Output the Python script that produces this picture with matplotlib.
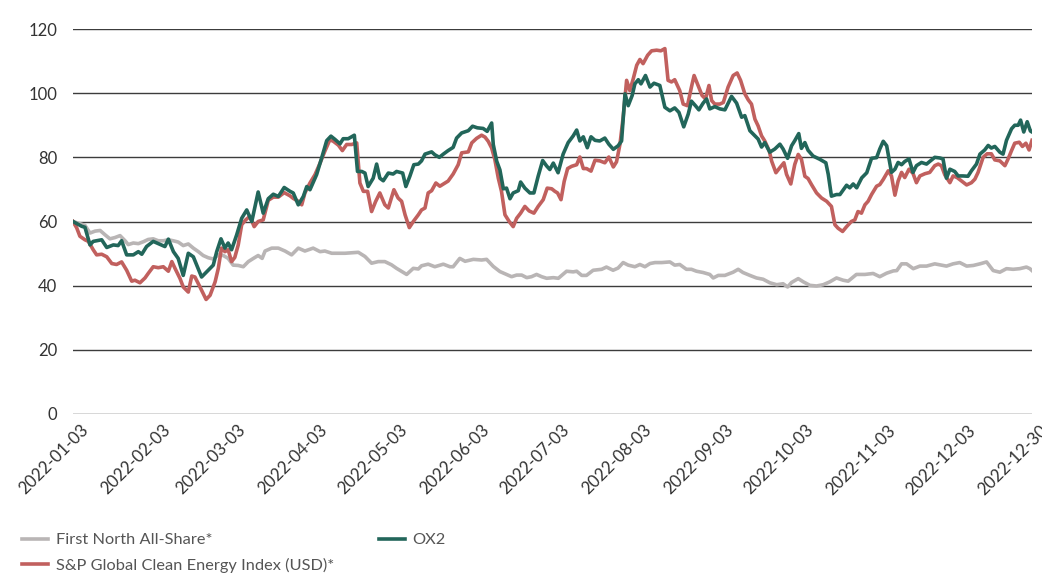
import numpy as np
import matplotlib
matplotlib.use("Agg")
import matplotlib.pyplot as plt
import matplotlib.dates as mdates
import matplotlib.transforms as mtransforms
import datetime as dt

plt.rcParams['font.family'] = ['Lato', 'DejaVu Sans']

START = dt.date(2022, 1, 3)

# ---- data (day offsets from 2022-01-03, indexed values) ----
ox2_days = [0, 3.3, 4.5, 6.4, 7.6, 10.8, 12.7, 15.2, 17, 18.3, 20.2, 22.7, 24.6, 25.9, 27.7, 30.2, 32.7, 34.6, 35.9, 37.8,
            39.6, 41.5, 43.4, 45.3, 48.4, 50.9, 52.8, 54.1, 55.7, 57.2, 58.4, 59.7, 61.6, 63.5, 65.4, 67.3, 69.7, 71.6, 73.5, 75.4,
            77.3, 79.5, 81.7, 82.9, 84.8, 86.7, 88, 89.2, 91.7, 93.6, 95.5, 97.1, 98.6, 100.5, 101.7, 103.6, 105.9, 107.1, 108.7, 109.9,
            111.1, 113, 114.3, 115.5, 116.8, 118.7, 120.5, 121.8, 124.1, 125.3, 126.8, 128.3, 130, 131.2, 132.5, 135, 136.2, 137.9, 139.4, 141.2,
            143.1, 144.4, 146.3, 148.8, 150.4, 152.2, 154.4, 155.9, 157.6, 158.2, 159.5, 160.7, 162, 163.2, 164.5, 165.7, 167.6, 168.5, 170.1, 172,
            173.5, 175.1, 176.8, 178.3, 179.5, 180.8, 182.6, 184.5, 186.4, 188.3, 189.6, 190.8, 192.1, 193.6, 195, 196.5, 198.3, 200.2, 201.7, 203.4,
            205.2, 206.5, 207.8, 209, 210.5, 211.5, 212.8, 213.8, 215.5, 217.2, 218.7, 220.9, 222.8, 224.7, 226.5, 228.1, 229.9, 231.6, 232.8, 234.3,
            235.6, 237.2, 238.5, 239.7, 241.6, 243.5, 245.4, 247.9, 249.8, 251.7, 252.9, 254.8, 256.7, 257.9, 259.2, 260.4, 262.3, 264.2, 266.1, 267.3,
            269, 270.5, 271.7, 273.2, 274.2, 275.5, 276.7, 278.6, 281.1, 283.4, 284.3, 285.5, 287.4, 288.7, 291.2, 292.4, 293.7, 295, 296.9, 298.8,
            300.6, 302.5, 303.7, 305, 306.3, 308.1, 309.4, 310.6, 311.9, 313.1, 314.7, 316.2, 317.5, 319.4, 321.3, 323.2, 324.4, 326.3, 327.5, 328.8,
            330.1, 331.9, 333.2, 335, 336.9, 338.2, 340.1, 341.4, 343.2, 344.5, 345.7, 347, 348.9, 350.1, 351.4, 353.3, 354.5, 355.8, 356.7, 357.9,
            359.2, 360.4, 361]
ox2_vals = [60, 58.5, 58.2, 52.7, 53.8, 54.3, 51.9, 52.7, 52.5, 54, 49.6, 49.6, 50.6, 49.8, 52.2, 53.8, 52.9, 52.2, 54.5, 50.6,
            48.5, 43.2, 50.1, 49, 42.7, 44.8, 46.4, 50.6, 54.6, 51.7, 53.3, 51.2, 55.8, 61, 63.6, 60, 69.2, 62.6, 67.1, 68.5,
            67.8, 70.6, 69.4, 68.9, 65.2, 67.8, 70.9, 69.9, 74.6, 79.8, 85.2, 86.6, 85.6, 84.2, 85.8, 85.8, 86.9, 75.6, 75.6, 75.1,
            70.9, 73.5, 77.9, 73.5, 72.7, 75.1, 74.8, 75.6, 75.1, 70.9, 74.1, 77.7, 77.9, 78.9, 81, 81.7, 80.8, 80, 81, 82.1,
            83.1, 86, 87.6, 88.3, 89.7, 89.2, 89, 88.1, 90.7, 84, 78.8, 76.1, 70.2, 70.4, 67.1, 68.9, 69.6, 72.3, 70.4, 68.9,
            68.9, 74.1, 79, 77.3, 76.2, 78.2, 75.2, 81, 84.6, 86.7, 88.5, 85.1, 86.4, 83, 86.4, 85.3, 85.1, 86, 84.1, 82.5,
            83.6, 85.1, 99.8, 96.1, 99.3, 102.9, 104.2, 102.9, 105.5, 101.9, 103.1, 102.4, 95.6, 94.5, 95.4, 94, 89.5, 93.5, 97.5, 96.1,
            94.8, 96.9, 98.2, 95.1, 95.8, 95.1, 94.8, 99, 96.9, 92.5, 93, 88.3, 86.7, 85.7, 83.2, 84.6, 81.6, 82.6, 84.1, 82.6,
            79.7, 83.6, 85.2, 87.4, 82.8, 84.6, 82.2, 80.4, 79.4, 78.3, 74.7, 67.9, 68.4, 68.4, 71.3, 70.5, 71.7, 70.5, 73.6, 75.2,
            79.7, 79.9, 82.6, 85, 83.6, 75.3, 76.3, 78.4, 77.7, 78.7, 79.5, 75.3, 77.4, 78.4, 77.9, 79.2, 80, 79.8, 79.5, 73.5,
            76.3, 75.6, 74.2, 74.2, 74.1, 75.8, 77.9, 81, 82.3, 83.7, 82.9, 83.4, 81.6, 81, 85.3, 88.9, 90, 90, 91.6, 87.9,
            91.1, 88.2, 87.9]

sp_days = [0, 1.4, 2.6, 4.5, 5.8, 7.6, 8.9, 10.8, 12.7, 14.6, 16.4, 18.3, 20.2, 22.1, 23.3, 25.2, 27.1, 28.3, 30.2, 32.1,
           34, 35.9, 37.2, 38.4, 40.3, 41.5, 43.4, 44.7, 45.9, 47.8, 50.1, 51.6, 53.5, 54.7, 55.9, 57.2, 58.4, 59.7, 60.9, 62.2,
           63.5, 65, 66.6, 68.2, 69.7, 71.6, 73.5, 75.4, 77.3, 79.5, 81.7, 82.9, 84.8, 86.1, 87.3, 89.2, 91.1, 93, 94.8, 96.7,
           98, 99.9, 101.4, 103, 104.9, 106.8, 108, 109.3, 110.9, 112.4, 113.9, 115.5, 117.4, 118.7, 120.8, 122.4, 123.7, 125, 126.6, 128.1,
           130, 131.2, 132.5, 133.7, 135, 136.6, 138.1, 140, 141.2, 143.1, 145, 146.3, 148.8, 150.1, 151.9, 153.8, 155.1, 156.3, 157.6, 158.8,
           160.1, 161.3, 162.6, 164.2, 165.7, 167, 168.5, 170.1, 171.7, 173.5, 175.1, 177, 178.5, 180.2, 181.4, 182.4, 183.7, 184.9, 186.2, 187.7,
           189.6, 190.8, 192.1, 193.3, 195, 196.5, 198.3, 200.2, 201.7, 203.4, 204.6, 205.9, 207.1, 208.4, 209.6, 210.9, 212.2, 213.4, 214.6, 216.3,
           217.8, 219.7, 221.3, 222.8, 224, 225.3, 226.5, 228.4, 229.7, 231.3, 232.8, 233.8, 235.3, 236.8, 238.1, 239.4, 240.4, 241.6, 243.5, 244.8,
           246.6, 248.5, 250, 251.3, 252.9, 254.2, 255.4, 256.7, 257.9, 259.2, 260.4, 262.1, 263, 264.6, 266.1, 267.6, 268.6, 270.2, 271.7, 273,
           274.2, 275.5, 276.7, 278, 279.9, 281.8, 283.7, 285.5, 286.8, 288, 289.7, 291.2, 293, 294.3, 295.5, 296.8, 298.1, 299.3, 300.6, 302.5,
           303.7, 305, 306.9, 308.1, 309.4, 310.6, 311.9, 313.1, 314.7, 316.2, 317.5, 318.8, 320.7, 322.5, 324.4, 325.7, 326.9, 328.2, 330.1, 331.3,
           332.8, 334.5, 336.4, 338.2, 339.5, 340.7, 342.6, 344.1, 345.7, 347, 348.9, 350.8, 352, 353.3, 354.5, 356.2, 357.4, 358.7, 359.9, 361]
sp_vals = [60, 58, 55.4, 54.3, 53.8, 51.2, 49.6, 49.8, 49, 46.9, 46.6, 47.4, 44.8, 41.4, 41.7, 40.9, 42.4, 43.8, 45.9, 45.6,
           45.9, 44.5, 47.5, 45.4, 42.2, 39.6, 38, 43, 42.7, 39.6, 35.7, 37, 41.2, 45.4, 51.7, 50.6, 51.2, 47.5, 48.8, 52.7,
           59, 60.5, 61.6, 58.4, 60, 60.5, 66.6, 67.6, 67.6, 69, 68, 67.2, 66.3, 65.2, 68.9, 72, 74.6, 78.2, 81.9, 85.5,
           85, 83.8, 82.1, 84, 84, 84.5, 72, 69.4, 69.4, 63.1, 66.2, 68.9, 65.2, 64.2, 69.9, 67.3, 66.3, 62.1, 58.1, 60,
           62.1, 63.6, 64.2, 68.9, 69.6, 72, 71, 72, 72.6, 74.8, 77.7, 81.4, 81.7, 84.5, 85.9, 86.9, 86.3, 85, 82.9, 79.3,
           73.5, 69.4, 62.1, 60, 58.4, 61, 62.6, 64.7, 63.3, 62.6, 64.7, 66.8, 70.4, 70.2, 69.4, 68.9, 66.8, 72.5, 76.5, 77.2,
           77.7, 80.1, 76.5, 76.5, 75.7, 79.1, 78.9, 78.3, 80.1, 77, 78.6, 84.1, 92.5, 104, 100.8, 104.5, 108.7, 110.5, 109.2, 111.8,
           113.2, 113.4, 113.2, 113.9, 104, 103.5, 104.2, 100.8, 96.6, 96.1, 101.9, 105.5, 102.4, 99.3, 98.2, 102.4, 97.7, 96.6, 96.6, 97.1,
           101.9, 105.5, 106.3, 104, 99.8, 97.9, 96.6, 91.9, 89.8, 86.7, 85.1, 82, 78.8, 75.2, 76.8, 78.3, 74.7, 71.7, 77.8, 80.9,
           79.4, 74.1, 73.4, 71.5, 68.9, 67.3, 66.3, 64.7, 59, 57.9, 56.9, 58.4, 60, 60.5, 63.1, 62.6, 65.2, 66.3, 68.4, 71,
           71.5, 73.1, 75.8, 74.2, 68.2, 72.6, 75.3, 73.7, 76.3, 75, 72.1, 74.2, 74.9, 75.3, 77.4, 77.9, 77.4, 74.5, 72.1, 74.2,
           73.7, 72.6, 71.4, 72.1, 73.2, 75.3, 80, 81.1, 81.1, 79.2, 78.9, 77.4, 79.5, 82.1, 84.4, 84.7, 83.4, 84.4, 82.3, 85.3]

fn_days = [0, 4.5, 6.4, 8.3, 10.2, 12, 13.9, 15.8, 17.7, 19.6, 20.8, 22.7, 24.6, 26.5, 28.3, 30.2, 32.1, 34, 35.9, 37.7,
           39.6, 41.5, 43.4, 45.3, 47.2, 49, 50.9, 52.8, 54.7, 56.6, 58.4, 60.3, 62.2, 64.1, 66, 67.9, 69.7, 71.2, 72.3, 74.8,
           77.3, 79.8, 82.3, 84.8, 87.3, 90.4, 93, 94.8, 97.4, 102.4, 107.4, 109.9, 112.4, 114.9, 117.4, 119.9, 121.8, 125.6, 128.1, 130,
           131.2, 133.7, 136.2, 139.4, 141.9, 143.1, 145.6, 147.6, 150.7, 153.8, 155.7, 158.2, 160.7, 163.2, 165.1, 167, 168.9, 170.8, 172.6, 174.5,
           176.4, 178.3, 180.8, 182.7, 185.8, 188.3, 189.6, 191.5, 193.3, 195.8, 199, 200.8, 203.3, 205.2, 207.1, 209, 211.5, 213.4, 215.3, 217.2,
           219.1, 221.6, 224.7, 226.5, 228.4, 230.9, 232.8, 234.7, 237.2, 239.7, 241, 242.9, 245.4, 248.5, 250.4, 252.2, 254.8, 257.3, 259.8, 262.3,
           264.9, 267.3, 269, 270.5, 273, 274.9, 277.4, 279.9, 282.4, 284.9, 287.4, 289.9, 291.8, 294.9, 298.1, 301.2, 303.7, 306.3, 308.8, 310.1,
           311.9, 313.8, 316.3, 318.8, 321.3, 324.4, 326.3, 328.8, 331.3, 333.8, 336.4, 338.9, 341.4, 343.9, 346.4, 348.9, 351.4, 353.9, 356.4, 358.9,
           360.2, 361]
fn_vals = [60, 58.8, 56.4, 57, 57.2, 55.9, 54.6, 55, 55.6, 54, 52.8, 53.3, 53.1, 53.7, 54.4, 54.6, 54, 54, 54.3, 54,
           53.6, 52.5, 53, 51.7, 50.6, 49.4, 48.7, 48.3, 49.6, 49.4, 48.5, 46.4, 46.3, 45.9, 47.5, 48.5, 49.4, 48.5, 50.8, 51.7,
           51.7, 50.8, 49.6, 51.7, 50.8, 51.7, 50.6, 50.8, 50.1, 50.1, 50.4, 49.1, 47, 47.5, 47.5, 46.5, 45.4, 43.5, 45.4, 45.2,
           46.2, 46.7, 45.9, 46.7, 45.9, 45.9, 48.5, 47.6, 48.2, 48, 48.2, 46, 44.4, 43.5, 42.8, 43.3, 43.3, 42.5, 42.8, 43.5,
           42.8, 42.3, 42.5, 42.3, 44.5, 44.3, 44.5, 43.2, 43.2, 44.8, 45.1, 45.8, 44.8, 45.5, 47.2, 46.4, 45.9, 46.6, 45.9, 46.9,
           47.2, 47.2, 47.4, 46.4, 46.6, 45.1, 45.1, 44.5, 44.1, 43.5, 42.4, 43.2, 43.2, 44.2, 45.1, 44.1, 43.2, 42.4, 42, 40.9,
           40.3, 40.6, 39.6, 41, 42.2, 41.2, 40.1, 39.9, 40.3, 41.2, 42.4, 41.7, 41.4, 43.5, 43.5, 43.8, 42.8, 43.9, 44.6, 44.7,
           46.8, 46.8, 45.3, 46.1, 46.1, 46.8, 46.5, 46.1, 46.8, 47.2, 46.1, 46.3, 46.8, 47.4, 44.7, 44.2, 45.3, 45.1, 45.3, 45.8,
           45.3, 44.7]

tick_labels = ["2022-01-03", "2022-02-03", "2022-03-03", "2022-04-03", "2022-05-03", "2022-06-03",
               "2022-07-03", "2022-08-03", "2022-09-03", "2022-10-03", "2022-11-03", "2022-12-03", "2022-12-30"]
y_ticks = [0, 20, 40, 60, 80, 100, 120]

labels = {"fn": "First North All-Share*", "ox2": "OX2", "sp": "S&P Global Clean Energy Index (USD)*"}
colors = {"fn": "#b9b5b5", "ox2": "#22665a", "sp": "#c1605e"}

# ---- figure ----
W, H = 1042, 576
fig = plt.figure(figsize=(W / 100, H / 100), dpi=100)
ax = fig.add_axes([73 / W, 1 - 414 / H, (1032 - 73) / W, (414 - 29) / H])

base = mdates.date2num(START)
def to_x(days):
    return base + np.asarray(days, dtype=float)

lw = 2.6
l_fn, = ax.plot(to_x(fn_days), fn_vals, color=colors["fn"], lw=lw, label=labels["fn"], solid_joinstyle='round', zorder=3)
l_sp, = ax.plot(to_x(sp_days), sp_vals, color=colors["sp"], lw=lw, label=labels["sp"], solid_joinstyle='round', zorder=4)
l_ox, = ax.plot(to_x(ox2_days), ox2_vals, color=colors["ox2"], lw=lw, label=labels["ox2"], solid_joinstyle='round', zorder=5)

ax.set_ylim(0, 120)
ax.set_xlim(base, base + 361)
ax.set_yticks(y_ticks)
for v in y_ticks:
    ax.axhline(v, color="#3c3c3c", lw=1.0, zorder=1)

tick_dates = [mdates.date2num(dt.date.fromisoformat(s)) for s in tick_labels]
ax.set_xticks(tick_dates)
ax.set_xticklabels(tick_labels)

for s in ax.spines.values():
    s.set_visible(False)
ax.tick_params(axis="both", length=0, labelsize=12, colors="#333333")
ax.tick_params(axis="x", labelsize=12.2, pad=0)
ax.tick_params(axis="y", pad=11.5)
ax.grid(False)

# apply label offset after all tick_params calls
offset = mtransforms.ScaledTranslation(7 / 100, -8 / 100, fig.dpi_scale_trans)
for lab in ax.get_xticklabels():
    lab.set_rotation(45)
    lab.set_ha("right")
    lab.set_va("top")
    lab.set_rotation_mode("anchor")
    lab.set_transform(lab.get_transform() + offset)

leg_kw = dict(loc="upper left", frameon=False, fontsize=11.8, handlelength=1.6, handletextpad=0.45,
              labelspacing=0.62, borderaxespad=0, borderpad=0)
leg1 = fig.legend(handles=[l_fn, l_sp], labels=[labels["fn"], labels["sp"]],
                  bbox_to_anchor=(22 / W, 1 - 533 / H), **leg_kw)
leg2 = fig.legend(handles=[l_ox], labels=[labels["ox2"]],
                  bbox_to_anchor=(379 / W, 1 - 533 / H), **leg_kw)
for leg in (leg1, leg2):
    for t in leg.get_texts():
        t.set_color("#555555")

fig.savefig("out.png", dpi=100)
